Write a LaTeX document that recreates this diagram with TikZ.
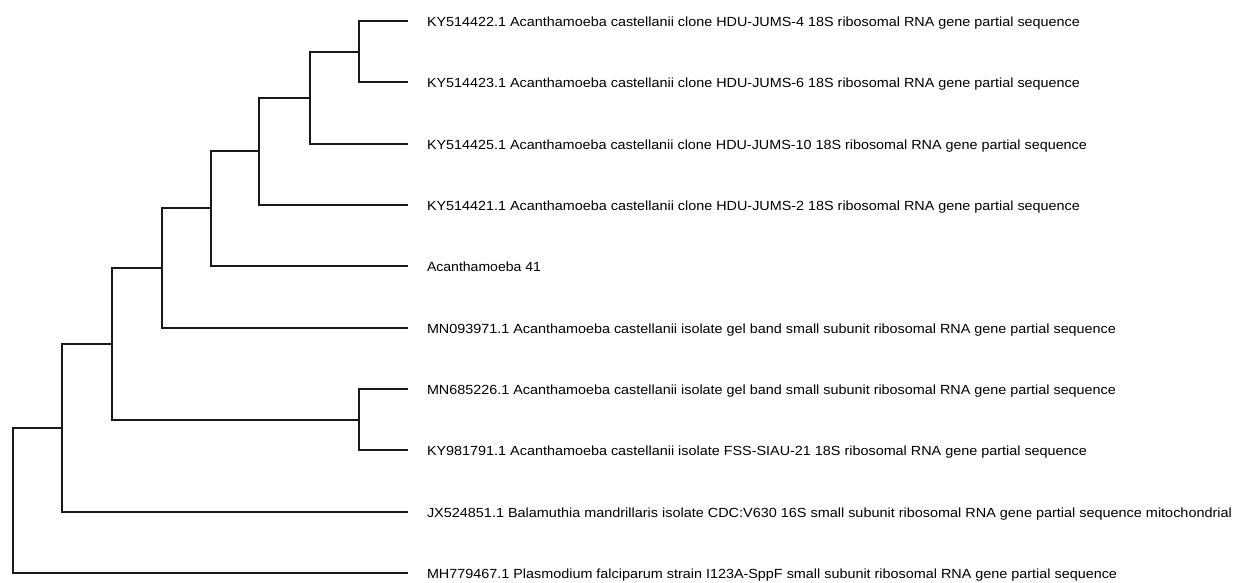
\documentclass[tikz,border=0pt]{standalone}
\usepackage{fontspec}
\setmainfont{Liberation Sans}
\usepackage{graphicx}
\newcommand{\fitlbl}[2]{\resizebox{#1pt}{9.6pt}{#2}}
\begin{document}
\begin{tikzpicture}[x=1pt,y=-1pt,
  branch/.style={line width=1.8pt,black!90,line cap=rect},
  leaflabel/.style={anchor=base west,inner sep=0pt,outer sep=0pt,text=black}]
\useasboundingbox (0,0) rectangle (1251,582);
% leaf tips
\coordinate (l0) at (407,21);
\coordinate (l1) at (407,82);
\coordinate (l2) at (407,144);
\coordinate (l3) at (407,205);
\coordinate (l4) at (407,266);
\coordinate (l5) at (407,328);
\coordinate (l6) at (407,389);
\coordinate (l7) at (407,450);
\coordinate (l8) at (407,512);
\coordinate (l9) at (407,573);
% internal nodes
\coordinate (A) at (359,52);
\coordinate (B) at (310,98);
\coordinate (C) at (259,151);
\coordinate (D) at (211,208);
\coordinate (E) at (162,268);
\coordinate (G) at (359,420);
\coordinate (F) at (112,344);
\coordinate (H) at (62,428);
\coordinate (R) at (13,500);
% labels
\node[leaflabel] (t0) at (427,26) {\fitlbl{653}{KY514422.1 Acanthamoeba castellanii clone HDU-JUMS-4 18S ribosomal RNA gene partial sequence}};
\node[leaflabel] (t1) at (427,87) {\fitlbl{653}{KY514423.1 Acanthamoeba castellanii clone HDU-JUMS-6 18S ribosomal RNA gene partial sequence}};
\node[leaflabel] (t2) at (427,149) {\fitlbl{660}{KY514425.1 Acanthamoeba castellanii clone HDU-JUMS-10 18S ribosomal RNA gene partial sequence}};
\node[leaflabel] (t3) at (427,210) {\fitlbl{653}{KY514421.1 Acanthamoeba castellanii clone HDU-JUMS-2 18S ribosomal RNA gene partial sequence}};
\node[leaflabel] (t4) at (427,271) {\fitlbl{114}{Acanthamoeba 41}};
\node[leaflabel] (t5) at (427,333) {\fitlbl{689}{MN093971.1 Acanthamoeba castellanii isolate gel band small subunit ribosomal RNA gene partial sequence}};
\node[leaflabel] (t6) at (427,394) {\fitlbl{689}{MN685226.1 Acanthamoeba castellanii isolate gel band small subunit ribosomal RNA gene partial sequence}};
\node[leaflabel] (t7) at (427,455) {\fitlbl{660}{KY981791.1 Acanthamoeba castellanii isolate FSS-SIAU-21 18S ribosomal RNA gene partial sequence}};
\node[leaflabel] (t8) at (427,517) {\fitlbl{805}{JX524851.1 Balamuthia mandrillaris isolate CDC:V630 16S small subunit ribosomal RNA gene partial sequence mitochondrial}};
\node[leaflabel] (t9) at (427,578) {\fitlbl{690}{MH779467.1 Plasmodium falciparum strain I123A-SppF small subunit ribosomal RNA gene partial sequence}};
% branches
\draw[branch] (l0) -| (A) |- (l1);
\draw[branch] (A) -| (B) |- (l2);
\draw[branch] (B) -| (C) |- (l3);
\draw[branch] (C) -| (D) |- (l4);
\draw[branch] (D) -| (E) |- (l5);
\draw[branch] (l6) -| (G) |- (l7);
\draw[branch] (E) -| (F) |- (G);
\draw[branch] (F) -| (H) |- (l8);
\draw[branch] (H) -| (R) |- (l9);
\end{tikzpicture}
\end{document}
